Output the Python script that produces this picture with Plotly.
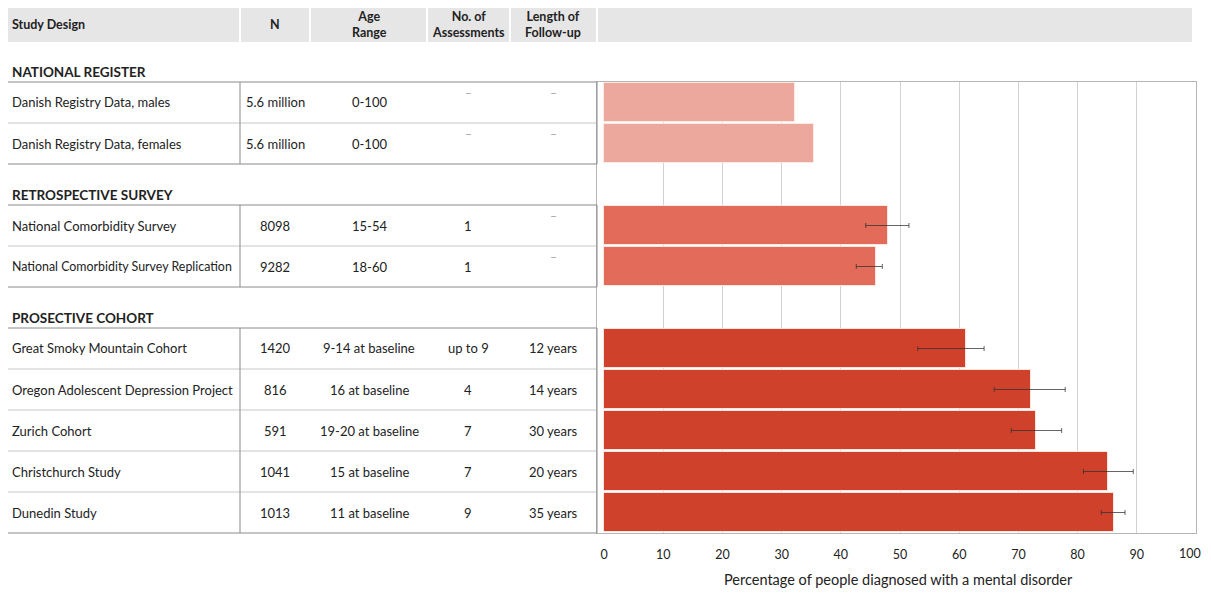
import plotly.graph_objects as go

# ---------------- data ----------------
studies = ["Danish Registry Data, males", "Danish Registry Data, females",
           "National Comorbidity Survey", "National Comorbidity Survey Replication",
           "Great Smoky Mountain Cohort", "Oregon Adolescent Depression Project",
           "Zurich Cohort", "Christchurch Study", "Dunedin Study"]
groups = ["NATIONAL REGISTER", "NATIONAL REGISTER",
          "RETROSPECTIVE SURVEY", "RETROSPECTIVE SURVEY",
          "PROSECTIVE COHORT", "PROSECTIVE COHORT", "PROSECTIVE COHORT",
          "PROSECTIVE COHORT", "PROSECTIVE COHORT"]
n_sizes = ["5.6 million", "5.6 million", "8098", "9282", "1420", "816", "591", "1041", "1013"]
age_ranges = ["0-100", "0-100", "15-54", "18-60", "9-14 at baseline", "16 at baseline",
              "19-20 at baseline", "15 at baseline", "11 at baseline"]
assessments = ["–", "–", "1", "1", "up to 9", "4", "7", "7", "9"]
follow_up = ["–", "–", "–", "–", "12 years", "14 years", "30 years", "20 years", "35 years"]
percent = [32.2, 35.5, 48.0, 46.0, 61.2, 72.2, 73.0, 85.2, 86.1]
ci_low = [None, None, 44.2, 42.6, 53.0, 65.9, 68.8, 81.0, 84.0]
ci_high = [None, None, 51.5, 47.0, 64.2, 77.9, 77.3, 89.4, 88.0]

group_order = ["NATIONAL REGISTER", "RETROSPECTIVE SURVEY", "PROSECTIVE COHORT"]
group_colors = {"NATIONAL REGISTER": "#EDA89E",
                "RETROSPECTIVE SURVEY": "#E36B5A",
                "PROSECTIVE COHORT": "#CF412B"}
header_labels = ["<b>Study Design</b>", "<b>N</b>", "<b>Age<br>Range</b>",
                 "<b>No. of<br>Assessments</b>", "<b>Length of<br>Follow-up</b>"]
x_ticks = list(range(0, 101, 10))
x_title = "Percentage of people diagnosed with a mental disorder"

# ---------------- row positions (gap row before each new group) ----------------
positions = []
pos = -1
prev = None
for g in groups:
    if g != prev:
        if prev is not None:
            pos += 1  # gap row holding the group title
        prev = g
    pos += 1
    positions.append(pos)
n_slots = positions[-1] + 1

# ---------------- geometry helpers (pixel layout of the page) ----------------
OFF = 8  # default body margin of the html page
W, H = 1211 - 2 * OFF, 599 - 2 * OFF
PL, PR, PT, PB = 597, 1196, 82, 533  # plot area in page pixels
X_MIN = -1.2  # axis zero sits a few pixels right of the frame


def fx(px):
    return (px - PL) / (PR - PL)


def fy(py):
    return (PB - py) / (PB - PT)


def slot_top_px(p):
    return PT + (PB - PT) / n_slots * p


ROW_H = (PB - PT) / n_slots

FONT = "Lato"
TXT = "#222222"
TICK_FONT = dict(family=FONT, size=12.5, color=TXT)

fig = go.Figure()

for g in group_order:
    idx = [i for i, gg in enumerate(groups) if gg == g]
    has_err = all(ci_low[i] is not None for i in idx)
    err = None
    if has_err:
        err = dict(type="data", symmetric=False,
                   array=[ci_high[i] - percent[i] for i in idx],
                   arrayminus=[percent[i] - ci_low[i] for i in idx],
                   color="rgba(50,50,50,0.75)", thickness=1, width=2.5)
    fig.add_trace(go.Bar(
        x=[percent[i] for i in idx], y=[positions[i] for i in idx],
        orientation="h", width=0.95,
        marker=dict(color=group_colors[g], line=dict(color="rgba(255,235,230,0.9)", width=1)),
        error_x=err, showlegend=False, hoverinfo="x"))

shapes = []
annots = []

# header background
col_edges = [6, 240, 310, 427, 510, 597, 1193]
for a, b in zip(col_edges[:-1], col_edges[1:]):
    shapes.append(dict(type="rect", xref="paper", yref="paper",
                       x0=fx(a + (0 if a == 6 else 1)), x1=fx(b - 1),
                       y0=fy(42), y1=fy(6), fillcolor="#E6E6E6", line=dict(width=0),
                       layer="below"))

col_centers = [10, 275, 369, 468, 553]
for k, lab in enumerate(header_labels):
    annots.append(dict(xref="paper", yref="paper", x=fx(col_centers[k]), y=fy(25),
                       text=lab, showarrow=False,
                       xanchor="left" if k == 0 else "center", yanchor="middle",
                       font=dict(family=FONT, size=12.5, color=TXT)))

# group boxes & titles
for g in group_order:
    idx = [i for i, gg in enumerate(groups) if gg == g]
    top = slot_top_px(positions[idx[0]])
    bot = slot_top_px(positions[idx[-1]] + 1)
    annots.append(dict(xref="paper", yref="paper", x=fx(10), y=fy(top - 10),
                       text="<b>" + g + "</b>", showarrow=False, xanchor="left",
                       yanchor="middle", font=dict(family=FONT, size=13.5, color=TXT)))
    for i in idx[1:]:
        yy = slot_top_px(positions[i])
        shapes.append(dict(type="line", xref="paper", yref="paper",
                           x0=fx(6), x1=fx(PL), y0=fy(yy), y1=fy(yy),
                           line=dict(color="#C8C8C8", width=1)))
    shapes.append(dict(type="rect", xref="paper", yref="paper",
                       x0=fx(6), x1=fx(PL), y0=fy(bot), y1=fy(top),
                       line=dict(color="#8A8A8A", width=1)))
    shapes.append(dict(type="line", xref="paper", yref="paper",
                       x0=fx(240), x1=fx(240), y0=fy(bot), y1=fy(top),
                       line=dict(color="#8A8A8A", width=1)))

# table cells
for i in range(len(studies)):
    cy = slot_top_px(positions[i]) + ROW_H / 2
    cells = [studies[i], n_sizes[i], age_ranges[i], assessments[i], follow_up[i]]
    for k, val in enumerate(cells):
        if val == "–":
            annots.append(dict(xref="paper", yref="paper", x=fx(col_centers[k]), y=fy(cy - 10),
                               text="–", showarrow=False, xanchor="center", yanchor="middle",
                               font=dict(family=FONT, size=12, color="#A0A0A0")))
        else:
            size = 12.4 if (k == 0 and len(val) > 36) else 13
            annots.append(dict(xref="paper", yref="paper", x=fx(col_centers[k]), y=fy(cy),
                               text=val, showarrow=False,
                               xanchor="left" if k == 0 else "center", yanchor="middle",
                               font=dict(family=FONT, size=size, color=TXT)))

# last tick label is placed as an annotation so it stays inside the page
tick_text = [str(t) for t in x_ticks[:-1]] + [""]
annots.append(dict(xref="x", yref="paper", x=x_ticks[-1], y=fy(553.5), xshift=-6,
                   text=str(x_ticks[-1]), showarrow=False, xanchor="center",
                   yanchor="middle", font=TICK_FONT))

annots.append(dict(xref="paper", yref="paper", x=fx(898), y=fy(OFF + H - 1), text=x_title,
                   showarrow=False, xanchor="center", yanchor="bottom",
                   font=dict(family=FONT, size=14.5, color=TXT)))

fig.update_layout(
    width=W, height=H,
    margin=dict(l=PL - OFF, r=W - (PR - OFF), t=PT - OFF, b=H - (PB - OFF), pad=0,
                autoexpand=False),
    plot_bgcolor="white", paper_bgcolor="white",
    bargap=0, barmode="overlay",
    shapes=shapes, annotations=annots,
    font=dict(family=FONT, color=TXT),
    xaxis=dict(range=[X_MIN, 100], tickvals=x_ticks, ticktext=tick_text,
               automargin=False, showgrid=False,
               minor=dict(tickvals=x_ticks[1:], showgrid=True, gridcolor="#D2D2D2",
                          gridwidth=1, ticks=""),
               showline=True, linecolor="#B5B5B5", mirror=True, zeroline=False,
               ticks="outside", ticklen=10, tickcolor="rgba(0,0,0,0)",
               tickfont=TICK_FONT),
    yaxis=dict(range=[n_slots - 0.5, -0.5], showticklabels=False, showgrid=False,
               automargin=False,
               showline=True, linecolor="#B5B5B5", mirror=True, zeroline=False),
)

fig.write_html("out.html")
